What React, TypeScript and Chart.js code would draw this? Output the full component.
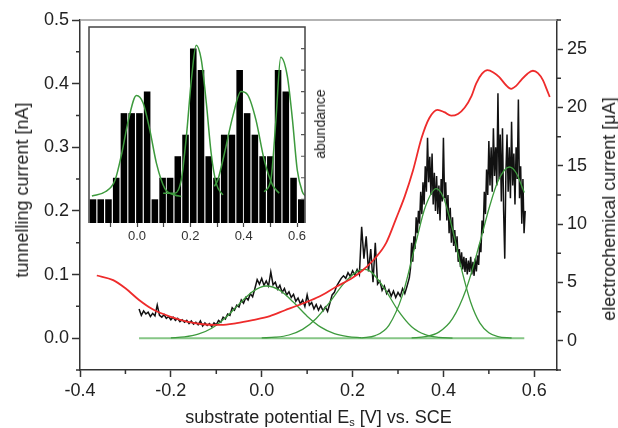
import React, { useEffect, useRef } from 'react';
import { Chart, registerables } from 'chart.js';

Chart.register(...registerables);

const FONT = '"Liberation Sans", Arial, Helvetica, sans-serif';

// ---------- main axes ticks ----------
const xMajorTicks = [-0.4, -0.2, 0.0, 0.2, 0.4, 0.6];
const xMinorTicks = [-0.3, -0.1, 0.1, 0.3, 0.5];
const yLeftMajorTicks = [0.0, 0.1, 0.2, 0.3, 0.4, 0.5];
const yLeftMinorTicks = [-0.05, 0.05, 0.15, 0.25, 0.35, 0.45];
const yRightMajorTicks = [0, 5, 10, 15, 20, 25];
const yRightMinorTicks = [-2.5, 2.5, 7.5, 12.5, 17.5, 22.5, 27.5];

// ---------- tunnelling current trace (nA) vs potential (V) ----------
const tracePotential = [
  -0.270, -0.265, -0.260, -0.255, -0.250, -0.245, -0.240, -0.235, -0.230, -0.225,
  -0.220, -0.215, -0.210, -0.205, -0.200, -0.195, -0.190, -0.185, -0.180, -0.175,
  -0.170, -0.165, -0.160, -0.155, -0.150, -0.145, -0.140, -0.135, -0.130, -0.125,
  -0.120, -0.115, -0.110, -0.105, -0.100, -0.095, -0.090, -0.085, -0.080, -0.075,
  -0.070, -0.065, -0.060, -0.055, -0.050, -0.045, -0.040, -0.035, -0.030, -0.025,
  -0.020, -0.015, -0.010, -0.005, 0.000, 0.005, 0.010, 0.015, 0.020, 0.025,
  0.030, 0.035, 0.040, 0.045, 0.050, 0.055, 0.060, 0.065, 0.070, 0.075,
  0.080, 0.085, 0.090, 0.095, 0.100, 0.105, 0.110, 0.115, 0.120, 0.125,
  0.130, 0.135, 0.140, 0.145, 0.150, 0.155, 0.160, 0.165, 0.170, 0.175,
  0.180, 0.185, 0.190, 0.195, 0.200, 0.205, 0.210, 0.215, 0.220, 0.225,
  0.230, 0.235, 0.240, 0.245, 0.250, 0.255, 0.260, 0.265, 0.270, 0.275,
  0.280, 0.285, 0.290, 0.295, 0.300, 0.305, 0.310, 0.315, 0.320, 0.325,
  0.3275, 0.3300, 0.3325, 0.3350, 0.3375, 0.3400, 0.3425, 0.3450, 0.3475, 0.3500,
  0.3525, 0.3550, 0.3575, 0.3600, 0.3625, 0.3650, 0.3675, 0.3700, 0.3725, 0.3750,
  0.3775, 0.3800, 0.3825, 0.3850, 0.3875, 0.3900, 0.3925, 0.3950, 0.3975, 0.4000,
  0.4025, 0.4050, 0.4075, 0.4100, 0.4125, 0.4150, 0.4175, 0.4200, 0.4225, 0.4250,
  0.4275, 0.4300, 0.4325, 0.4350, 0.4375, 0.4400, 0.4425, 0.4450, 0.4475, 0.4500,
  0.4525, 0.4550, 0.4575, 0.4600, 0.4625, 0.4650, 0.4675, 0.4700, 0.4725, 0.4750,
  0.4775, 0.4800, 0.4825, 0.4850, 0.4875, 0.4900, 0.4925, 0.4950, 0.4975, 0.5000,
  0.5025, 0.5050, 0.5075, 0.5100, 0.5125, 0.5150, 0.5175, 0.5200, 0.5225, 0.5250,
  0.5275, 0.5300, 0.5325, 0.5350, 0.5375, 0.5400, 0.5425, 0.5450, 0.5475, 0.5500,
  0.5525, 0.5550, 0.5575, 0.5600, 0.5625, 0.5650, 0.5675, 0.5700, 0.5725, 0.5750,
  0.5775, 0.5800,
];
const traceCurrent = [
  0.046, 0.036, 0.043, 0.038, 0.041, 0.034, 0.039, 0.035, 0.052, 0.036,
  0.033, 0.037, 0.031, 0.034, 0.029, 0.033, 0.028, 0.031, 0.026, 0.029,
  0.025, 0.028, 0.023, 0.027, 0.022, 0.025, 0.021, 0.027, 0.019, 0.024,
  0.020, 0.023, 0.018, 0.024, 0.021, 0.028, 0.025, 0.033, 0.030, 0.038,
  0.036, 0.048, 0.044, 0.052, 0.049, 0.060, 0.055, 0.064, 0.060, 0.070,
  0.065, 0.078, 0.092, 0.085, 0.094, 0.083, 0.090, 0.082, 0.104, 0.084,
  0.088, 0.077, 0.083, 0.072, 0.078, 0.068, 0.073, 0.064, 0.069, 0.058,
  0.063, 0.054, 0.060, 0.050, 0.068, 0.052, 0.056, 0.046, 0.053, 0.044,
  0.051, 0.043, 0.049, 0.042, 0.055, 0.068, 0.072, 0.082, 0.088, 0.094,
  0.098, 0.094, 0.103, 0.097, 0.106, 0.099, 0.108, 0.100, 0.175, 0.125,
  0.160, 0.105, 0.140, 0.088, 0.150, 0.085, 0.090, 0.075, 0.082, 0.070,
  0.076, 0.066, 0.074, 0.064, 0.072, 0.066, 0.078, 0.070, 0.082, 0.095,
  0.110, 0.150, 0.120, 0.160, 0.140, 0.190, 0.165, 0.200, 0.180, 0.230,
  0.195, 0.245, 0.210, 0.270, 0.230, 0.315, 0.245, 0.285, 0.225, 0.290,
  0.210, 0.260, 0.200, 0.255, 0.195, 0.240, 0.185, 0.250, 0.215, 0.315,
  0.220, 0.245, 0.185, 0.225, 0.165, 0.205, 0.150, 0.190, 0.145, 0.170,
  0.135, 0.160, 0.120, 0.140, 0.112, 0.135, 0.108, 0.128, 0.104, 0.126,
  0.100, 0.122, 0.104, 0.128, 0.100, 0.120, 0.098, 0.125, 0.105, 0.130,
  0.115, 0.150, 0.135, 0.185, 0.165, 0.230, 0.195, 0.265, 0.225, 0.310,
  0.240, 0.300, 0.230, 0.330, 0.255, 0.300, 0.240, 0.385, 0.250, 0.320,
  0.215, 0.330, 0.200, 0.125, 0.260, 0.320, 0.230, 0.300, 0.220, 0.340,
  0.240, 0.290, 0.210, 0.300, 0.250, 0.375, 0.220, 0.270, 0.180, 0.250,
  0.165, 0.200,
];

// ---------- electrochemical current (uA) ----------
const ecPotential = [
  -0.363, -0.327, -0.300, -0.270, -0.240, -0.200, -0.165, -0.130, -0.090, -0.055,
  -0.020, 0.018, 0.050, 0.090, 0.127, 0.164, 0.200, 0.223, 0.250, 0.274,
  0.296, 0.315, 0.333, 0.352, 0.369, 0.387, 0.402, 0.417, 0.432, 0.447,
  0.462, 0.472, 0.485, 0.497, 0.510, 0.523, 0.537, 0.549, 0.560, 0.571,
  0.585, 0.597, 0.608, 0.619, 0.627, 0.634,
];
const ecCurrent = [
  5.6, 5.2, 4.5, 3.5, 2.7, 2.05, 1.65, 1.42, 1.36, 1.52,
  1.78, 2.12, 2.6, 3.2, 3.8, 4.64, 5.4, 6.07, 7.1, 8.4,
  10.5, 12.4, 14.6, 17.4, 19.1, 19.8, 19.6, 19.3, 19.45, 20.0,
  21.0, 22.05, 22.9, 23.2, 23.0, 22.6, 21.95, 21.6, 21.85, 22.35,
  22.9, 23.15, 22.95, 22.35, 21.6, 20.9,
];

// ---------- fitted peaks (nA) ----------
const baselinePotential = [-0.27, 0.578];
const baselineCurrent = [0, 0];
const peak1Potential = [-0.20, -0.17, -0.14, -0.11, -0.08, -0.05, -0.02, 0.01, 0.04, 0.07, 0.10, 0.13, 0.16, 0.19, 0.22];
const peak1Current = [0.0006, 0.002, 0.0063, 0.0156, 0.032, 0.0535, 0.0732, 0.082, 0.0751, 0.0564, 0.0346, 0.0174, 0.0071, 0.0024, 0.0007];
const peak2Potential = [0.00, 0.03, 0.06, 0.09, 0.12, 0.15, 0.18, 0.21, 0.226, 0.24, 0.27, 0.30, 0.33, 0.36, 0.39, 0.42];
const peak2Current = [0.0004, 0.0015, 0.005, 0.0138, 0.031, 0.0568, 0.0853, 0.105, 0.108, 0.1046, 0.0784, 0.0437, 0.018, 0.0055, 0.0013, 0.0002];
const peak3Potential = [0.22, 0.25, 0.28, 0.31, 0.34, 0.36, 0.384, 0.40, 0.42, 0.44, 0.46, 0.48, 0.50, 0.52, 0.55];
const peak3Current = [0.0005, 0.004, 0.0203, 0.068, 0.152, 0.206, 0.235, 0.221, 0.171, 0.108, 0.0565, 0.0241, 0.0085, 0.0024, 0.0003];
const peak4Potential = [0.33, 0.36, 0.39, 0.42, 0.45, 0.48, 0.50, 0.52, 0.545, 0.56, 0.578];
const peak4Current = [0.0006, 0.0023, 0.0095, 0.0307, 0.077, 0.1496, 0.203, 0.2466, 0.269, 0.260, 0.2288];

// ---------- inset histogram ----------
const binCenters = [
  -0.165, -0.136, -0.107, -0.078, -0.049, -0.020, 0.009, 0.038, 0.067, 0.096,
  0.124, 0.153, 0.182, 0.211, 0.240, 0.269, 0.298, 0.327, 0.356, 0.385,
  0.413, 0.442, 0.471, 0.500, 0.529, 0.558, 0.587, 0.616,
];
const binCounts = [1, 1, 1, 2, 5, 5, 5, 6, 1, 2, 2, 3, 4, 8, 7, 3, 2, 4, 4, 7, 5, 4, 3, 3, 7, 6, 2, 1];
const insetXTicks = [-0.1, 0.0, 0.1, 0.2, 0.3, 0.4, 0.5, 0.6];
const insetXLabels = ['', '0.0', '', '0.2', '', '0.4', '', '0.6'];
const insetYTicks = [1, 2, 3, 4, 5, 6, 7, 8];

const fit1Potential = [-0.169, -0.119, -0.082, -0.057, -0.032, -0.002, 0.023, 0.048, 0.073, 0.104, 0.142, 0.166];
const fit1Count = [1.15, 1.35, 1.9, 3.14, 4.69, 5.82, 5.47, 4.22, 2.67, 1.51, 1.2, 1.13];
const fit2Potential = [0.098, 0.142, 0.166, 0.185, 0.204, 0.222, 0.241, 0.26, 0.278, 0.297, 0.322];
const fit2Count = [1.28, 1.28, 1.9, 3.9, 6.55, 8.15, 7.48, 5.47, 3.15, 1.74, 1.2];
const fit3Potential = [0.29, 0.303, 0.328, 0.359, 0.39, 0.415, 0.446, 0.477, 0.508, 0.533];
const fit3Count = [1.6, 1.9, 3.14, 4.84, 6.0, 5.85, 4.69, 2.83, 1.67, 1.28];
const fit4Potential = [0.477, 0.502, 0.521, 0.539, 0.564, 0.583, 0.601, 0.62, 0.632];
const fit4Count = [1.35, 1.9, 4.69, 7.6, 6.7, 4.69, 2.36, 1.35, 1.15];

const xy = (xs: number[], ys: number[]) => xs.map((x, i) => ({ x, y: ys[i] }));
const fmt1 = (v: number) => (Math.abs(v) < 1e-9 ? '0.0' : v.toFixed(1));

const GREEN = '#3d9a3d';
const AXIS = '#333333';

const minorTickPlugin = {
  id: 'minorTicks',
  afterDraw(chart: any) {
    const { ctx, chartArea, scales } = chart;
    ctx.save();
    ctx.strokeStyle = '#9a9a9a';
    ctx.lineWidth = 1.5;
    ctx.beginPath();
    ctx.moveTo(chartArea.left, chartArea.top);
    ctx.lineTo(chartArea.right, chartArea.top);
    ctx.stroke();
    ctx.strokeStyle = AXIS;
    ctx.lineWidth = 1.5;
    ctx.beginPath();
    xMinorTicks.forEach((v) => {
      const px = scales.x.getPixelForValue(v);
      ctx.moveTo(px, chartArea.bottom);
      ctx.lineTo(px, chartArea.bottom + 4);
    });
    yLeftMinorTicks.forEach((v) => {
      const py = scales.y.getPixelForValue(v);
      ctx.moveTo(chartArea.left, py);
      ctx.lineTo(chartArea.left - 4, py);
    });
    yRightMinorTicks.forEach((v) => {
      const py = scales.y1.getPixelForValue(v);
      ctx.moveTo(chartArea.right, py);
      ctx.lineTo(chartArea.right + 4, py);
    });
    ctx.stroke();
    ctx.restore();
  },
};

const insetFramePlugin = {
  id: 'insetFrame',
  afterDraw(chart: any) {
    const { ctx, chartArea, scales } = chart;
    ctx.save();
    ctx.strokeStyle = '#444';
    ctx.lineWidth = 1.5;
    ctx.beginPath();
    ctx.moveTo(chartArea.left, chartArea.bottom);
    ctx.lineTo(chartArea.left, chartArea.top);
    ctx.lineTo(chartArea.right, chartArea.top);
    ctx.lineTo(chartArea.right, chartArea.bottom);
    ctx.stroke();
    ctx.lineWidth = 1.2;
    ctx.strokeStyle = '#555';
    ctx.beginPath();
    insetYTicks.forEach((v) => {
      const py = scales.y.getPixelForValue(v);
      ctx.moveTo(chartArea.right, py);
      ctx.lineTo(chartArea.right - 4, py);
    });
    ctx.stroke();
    ctx.restore();
  },
};

export default function App() {
  const mainRef = useRef<HTMLCanvasElement>(null);
  const insetRef = useRef<HTMLCanvasElement>(null);

  useEffect(() => {
    const lineBase = { pointRadius: 0, fill: false, cubicInterpolationMode: 'monotone' as const };
    const main = new Chart(mainRef.current!, {
      type: 'line',
      data: {
        datasets: [
          { ...lineBase, data: xy(ecPotential, ecCurrent), yAxisID: 'y1', borderColor: '#ee2b2b', borderWidth: 1.8, order: 0 },
          { ...lineBase, data: xy(peak1Potential, peak1Current), borderColor: GREEN, borderWidth: 1.3, order: 1 },
          { ...lineBase, data: xy(peak2Potential, peak2Current), borderColor: GREEN, borderWidth: 1.3, order: 1 },
          { ...lineBase, data: xy(peak3Potential, peak3Current), borderColor: GREEN, borderWidth: 1.3, order: 1 },
          { ...lineBase, data: xy(peak4Potential, peak4Current), borderColor: GREEN, borderWidth: 1.3, order: 1 },
          { ...lineBase, data: xy(baselinePotential, baselineCurrent), borderColor: '#86c686', borderWidth: 2, order: 2 },
          { pointRadius: 0, fill: false, tension: 0, data: xy(tracePotential, traceCurrent), borderColor: '#111', borderWidth: 1.5, order: 3 },
        ],
      },
      options: {
        responsive: false,
        animation: false,
        devicePixelRatio: 1,
        layout: { padding: { top: 20, left: 0, right: 0, bottom: 0 } },
        plugins: { legend: { display: false }, tooltip: { enabled: false } },
        scales: {
          x: {
            type: 'linear',
            min: -0.4,
            max: 0.65,
            afterBuildTicks: (s: any) => { s.ticks = xMajorTicks.map((value) => ({ value })); },
            afterFit: (s: any) => { s.height = 58; },
            grid: { drawOnChartArea: false, tickLength: 7, tickColor: AXIS, tickWidth: 1.5 },
            border: { color: AXIS, width: 1.5 },
            ticks: { color: '#222', font: { family: FONT, size: 18 }, padding: 3, maxRotation: 0, callback: (v: any) => fmt1(Number(v)) },
          },
          y: {
            type: 'linear',
            position: 'left',
            min: -0.05,
            max: 0.5,
            afterBuildTicks: (s: any) => { s.ticks = yLeftMajorTicks.map((value) => ({ value })); },
            afterFit: (s: any) => { s.width = 80; },
            grid: { drawOnChartArea: false, tickLength: 8, tickColor: AXIS, tickWidth: 1.5 },
            border: { color: AXIS, width: 1.5 },
            ticks: { color: '#222', font: { family: FONT, size: 18 }, padding: 3, callback: (v: any) => fmt1(Number(v)) },
          },
          y1: {
            type: 'linear',
            position: 'right',
            min: -2.5,
            max: 27.5,
            afterBuildTicks: (s: any) => { s.ticks = yRightMajorTicks.map((value) => ({ value })); },
            afterFit: (s: any) => { s.width = 61; },
            grid: { drawOnChartArea: false, tickLength: 6, tickColor: AXIS, tickWidth: 1.5 },
            border: { color: AXIS, width: 1.5 },
            ticks: { color: '#222', font: { family: FONT, size: 18 }, padding: 4, callback: (v: any) => String(Math.round(Number(v))) },
          },
        },
      },
      plugins: [minorTickPlugin],
    } as any);

    const inset = new Chart(insetRef.current!, {
      type: 'bar',
      data: {
        datasets: [
          { type: 'line', ...lineBase, data: xy(fit1Potential, fit1Count), borderColor: GREEN, borderWidth: 1.5, order: 0 },
          { type: 'line', ...lineBase, data: xy(fit2Potential, fit2Count), borderColor: GREEN, borderWidth: 1.5, order: 0 },
          { type: 'line', ...lineBase, data: xy(fit3Potential, fit3Count), borderColor: GREEN, borderWidth: 1.5, order: 0 },
          { type: 'line', ...lineBase, data: xy(fit4Potential, fit4Count), borderColor: GREEN, borderWidth: 1.5, order: 0 },
          {
            type: 'bar',
            data: xy(binCenters, binCounts),
            backgroundColor: '#000',
            borderWidth: 0,
            base: -0.1,
            barPercentage: 0.88,
            categoryPercentage: 1,
            order: 1,
          },
        ],
      },
      options: {
        responsive: false,
        animation: false,
        devicePixelRatio: 1,
        layout: { padding: { top: 3, left: 4, right: 10, bottom: 0 } },
        plugins: { legend: { display: false }, tooltip: { enabled: false } },
        scales: {
          x: {
            type: 'linear',
            min: -0.18,
            max: 0.63,
            offset: false,
            afterBuildTicks: (s: any) => { s.ticks = insetXTicks.map((value) => ({ value })); },
            afterFit: (s: any) => { s.height = 26; },
            grid: { display: true, offset: false, drawOnChartArea: false, tickLength: 4, tickColor: '#444', tickWidth: 1.2 },
            border: { display: false },
            ticks: {
              color: '#333',
              font: { family: FONT, size: 13 },
              padding: 2,
              maxRotation: 0,
              autoSkip: false,
              callback: (_v: any, i: number) => insetXLabels[i],
            },
          },
          y: { type: 'linear', display: false, min: -0.1, max: 9 },
        },
      },
      plugins: [insetFramePlugin],
    } as any);

    return () => {
      main.destroy();
      inset.destroy();
    };
  }, []);

  const rot: React.CSSProperties = {
    position: 'absolute',
    transform: 'translate(-50%, -50%) rotate(-90deg)',
    whiteSpace: 'nowrap',
    lineHeight: 1,
    color: '#222',
    fontFamily: FONT,
  };

  return (
    <div style={{ position: 'absolute', left: 0, top: 0, width: 618, height: 428, background: '#fff', overflow: 'hidden' }}>
      <canvas ref={mainRef} width={618} height={428} style={{ position: 'absolute', left: 0, top: 0, width: 618, height: 428 }} />
      <canvas ref={insetRef} width={230} height={225} style={{ position: 'absolute', left: 85, top: 24, width: 230, height: 225 }} />
      <div style={{ ...rot, left: 22, top: 190, fontSize: 18 }}>tunnelling current [nA]</div>
      <div style={{ ...rot, left: 609, top: 209, fontSize: 18 }}>electrochemical current [μA]</div>
      <div style={{ ...rot, left: 320, top: 124, fontSize: 14 }}>abundance</div>
      <div
        style={{
          position: 'absolute',
          left: 318.5,
          top: 417,
          transform: 'translate(-50%, -50%)',
          whiteSpace: 'nowrap',
          lineHeight: 1,
          color: '#222',
          fontFamily: FONT,
          fontSize: 18,
        }}
      >
        substrate potential E<sub style={{ fontSize: 11, verticalAlign: '-3px', lineHeight: 0 }}>s</sub> [V] vs. SCE
      </div>
    </div>
  );
}
